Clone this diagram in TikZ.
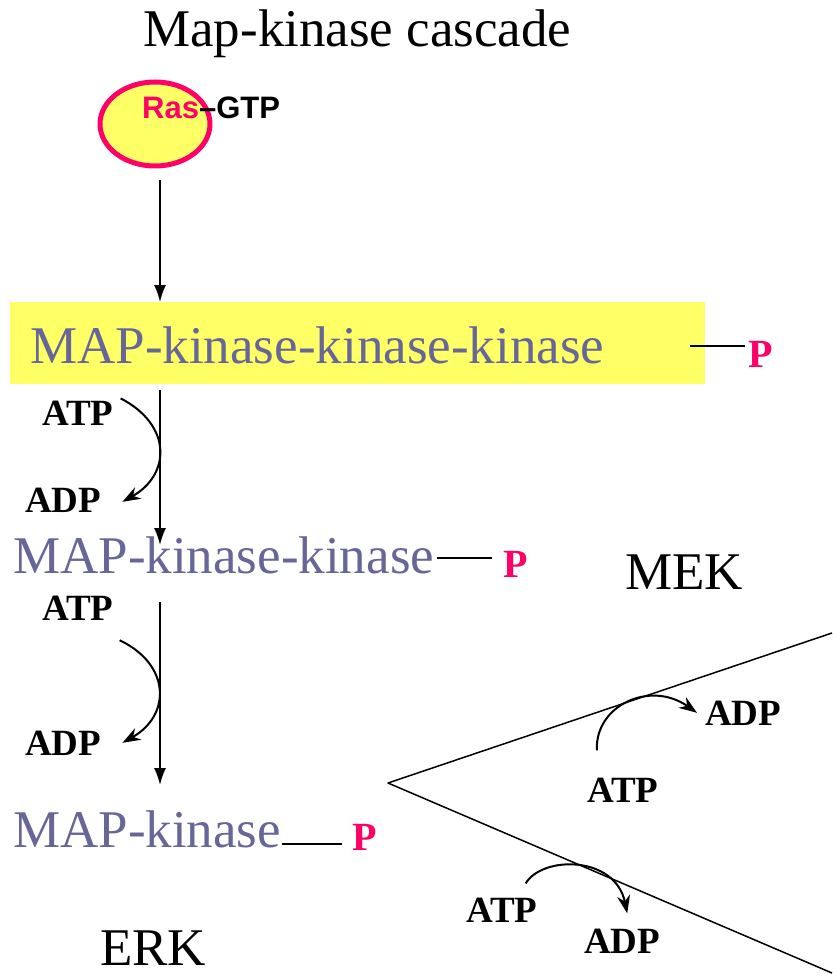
\documentclass[tikz,border=0pt]{standalone}
\usepackage{fontspec}
\setmainfont{Liberation Serif}
\newfontfamily\rasfont{Liberation Sans}
\usetikzlibrary{arrows.meta,shapes.geometric,calc}
\definecolor{kingray}{HTML}{666699}
\definecolor{phospink}{HTML}{FF0066}
\definecolor{paleyellow}{HTML}{FFFF66}

\begin{document}
\begin{tikzpicture}[x=1pt, y=-1pt, line join=round,
    big/.style={font=\fontsize{53}{60}\selectfont, inner sep=0, anchor=base west},
    kin/.style={big, text=kingray},
    nuc/.style={font=\fontsize{37}{42}\selectfont\bfseries, inner sep=0, anchor=base west},
    phos/.style={font=\fontsize{40}{46}\selectfont\bfseries, text=phospink, inner sep=0, anchor=base west},
    bond/.style={line width=1.8pt},
    cascade/.style={line width=1.8pt, -{Latex[length=17pt,width=12pt]}},
    react/.style={line width=2pt, -{Stealth[length=18pt,width=13pt]}}]
    \useasboundingbox (0,0) rectangle (832,976);

    % Title and Ras-GTP
    \node[big] (title) at (143,47) {Map-kinase cascade};
    \node[ellipse, draw=phospink, line width=5pt, fill=paleyellow, minimum width=110pt, minimum height=84pt] (ras) at (155,124) {};
    \node[inner sep=0, anchor=base west, font=\rasfont\bfseries\fontsize{31}{36}\selectfont] (gtp) at (142,119) {\textcolor{phospink}{Ras}–GTP};

    % Kinases
    \node[fill=paleyellow, minimum width=695pt, minimum height=82pt, inner sep=0, anchor=north west] (mkkkbox) at (10,302) {};
    \node[kin] (mkkk) at (30,363) {MAP-kinase-kinase-kinase};
    \node[kin] (mkk) at (13,573) {MAP-kinase-kinase};
    \node[kin] (mk) at (13,847) {MAP-kinase};
    \node[big] (mek) at (625,589) {MEK};
    \node[big] (erk) at (100,965) {ERK};

    % Phosphate groups
    \node[phos] (p1) at (748,367) {P};
    \node[phos] (p2) at (503,577) {P};
    \node[phos] (p3) at (352,850) {P};
    \coordinate (b1) at (690,346);
    \coordinate (b2) at (437,558);
    \coordinate (b3) at (282,844);
    \draw[bond] (b1) -- ([xshift=-3pt]b1 -| p1.west);
    \draw[bond] (b2) -- ([xshift=-11pt]b2 -| p2.west);
    \draw[bond] (b3) -- ([xshift=-10pt]b3 -| p3.west);

    % Cascade arrows
    \coordinate (a1) at (160,180);
    \coordinate (a2) at (160,390);
    \coordinate (a2e) at (160,545);
    \coordinate (a3) at (160,602);
    \coordinate (a3e) at (160,785);
    \draw[cascade] (a1) -- (a1 |- mkkkbox.north);
    \draw[cascade] (a2) -- (a2e);
    \draw[cascade] (a3) -- (a3e);

    % Wedge
    \coordinate (apex) at (388,783);
    \coordinate (upend) at (832,633);
    \coordinate (loend) at (832,973);
    \draw[line width=1.5pt] (upend) -- (apex) -- (loend);

    % ATP -> ADP
    \node[nuc] (atp1) at (42,425) {ATP};
    \node[nuc] (adp1) at (25,512) {ADP};
    \node[nuc] (atp2) at (42,620) {ATP};
    \node[nuc] (adp2) at (25,755) {ADP};
    \node[nuc] (atp3) at (587,802) {ATP};
    \node[nuc] (adp3) at (705,725) {ADP};
    \node[nuc] (atp4) at (466,922) {ATP};
    \node[nuc] (adp4) at (584,953) {ADP};
    \draw[react] ($(atp1.north east)+(7,-2)$) .. controls +(52,27) and +(48,-27) .. ($(adp1.east)+(21,2)$);
    \draw[react] ($(atp2.south east)+(6,20)$) .. controls +(52,25) and +(48,-27) .. ($(adp2.east)+(21,0)$);
    \draw[react] ($(atp3.north)+(-26,-27)$) .. controls +(-2,-45) and +(-47,-33) .. ($(adp3.west)+(-8,0)$);
    \draw[react] ($(atp4.north east)+(-12,-14)$) .. controls +(17,-28) and +(-12,-58) .. ($(adp4.north)+(5,-15)$);
\end{tikzpicture}
\end{document}
